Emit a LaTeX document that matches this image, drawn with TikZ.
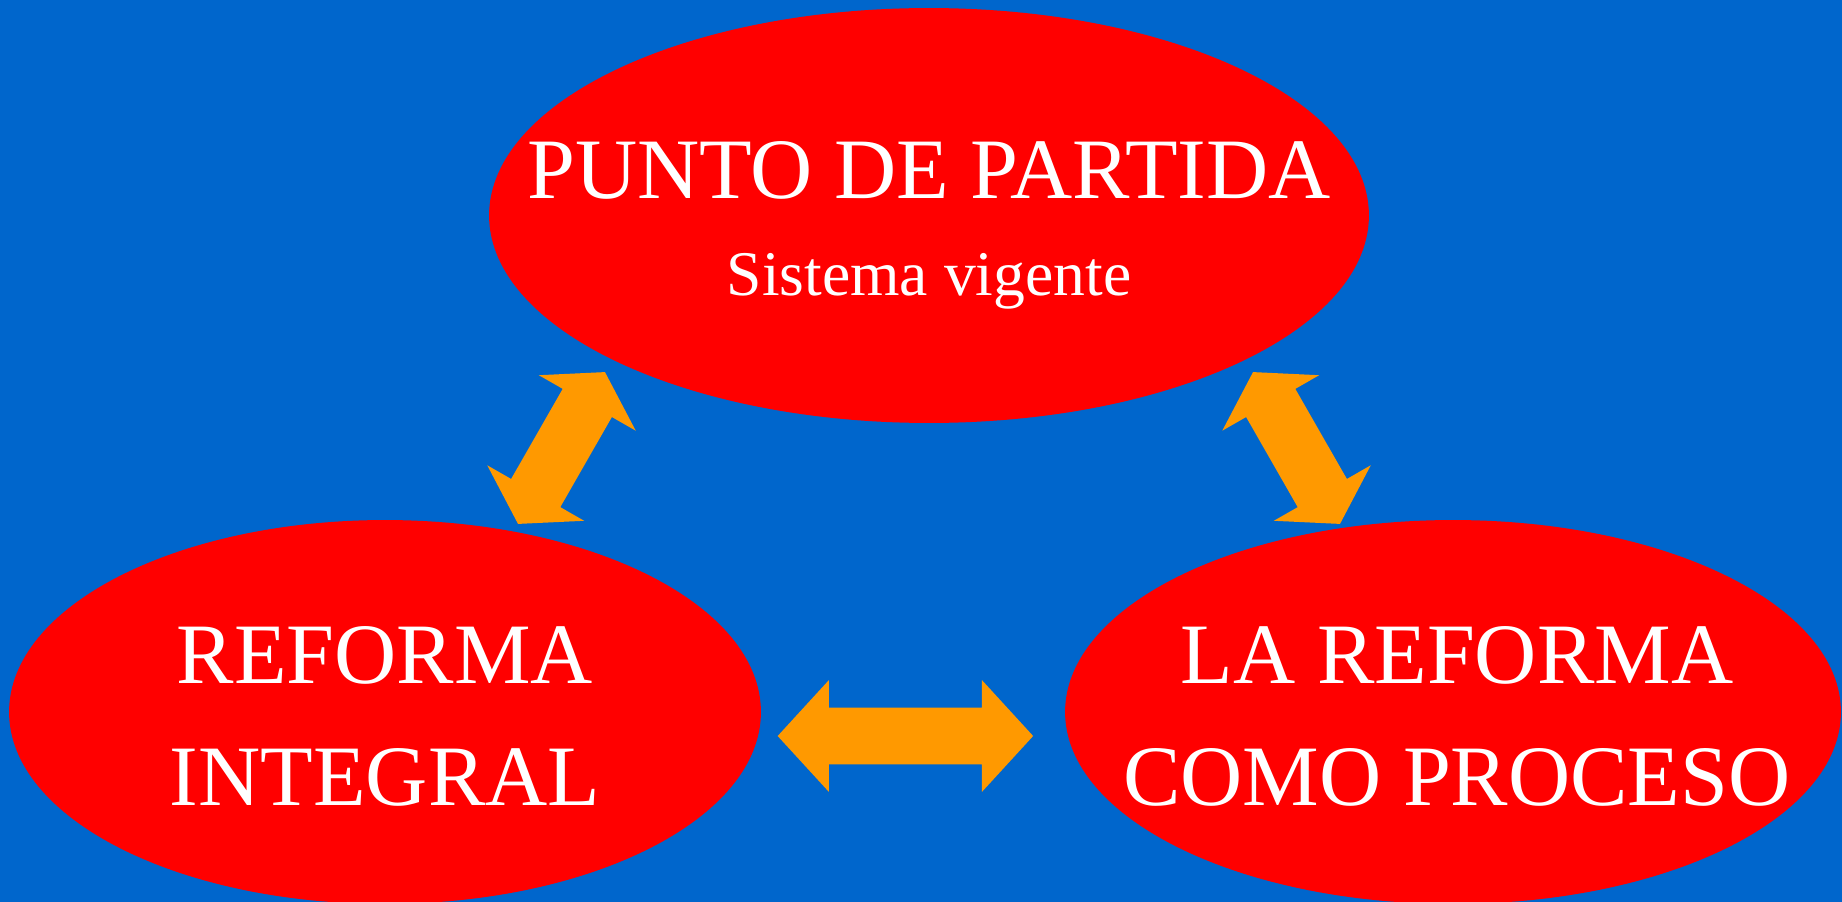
\documentclass[tikz,border=0pt]{standalone}
\usepackage{fontspec}
\setmainfont{Liberation Serif}
\usetikzlibrary{shapes.geometric,shapes.arrows,positioning}

\definecolor{azulfondo}{HTML}{0066CC}
\definecolor{rojobola}{HTML}{FF0000}
\definecolor{naranja}{HTML}{FF9900}

\tikzset{
  bola/.style={ellipse, fill=rojobola, inner sep=0pt},
  rotulo/.style={text=white, inner sep=0pt, align=center,
    font=\fontsize{49pt}{69.4pt}\selectfont},
  subrotulo/.style={text=white, inner sep=0pt,
    font=\fontsize{36.2pt}{44pt}\selectfont},
  flecha/.style={double arrow, fill=naranja, inner xsep=0pt, inner ysep=0.56cm,
    double arrow head extend=0.55cm}
}

\begin{document}
\begin{tikzpicture}[x=0.02cm, y=-0.02cm]
			\useasboundingbox (0,0) rectangle (1842,902);
			\fill[azulfondo] (0,0) rectangle (1842,902);
			% elipses
			\node[bola, minimum width=17.6cm, minimum height=8.3cm] (partida) at (929,215.5) {};
			\node[bola, minimum width=15.04cm, minimum height=7.68cm] (integral) at (385,712) {};
			\node[bola, minimum width=15.52cm, minimum height=7.68cm] (proceso) at (1453,712) {};
			% textos
			\node[rotulo, anchor=base] (tpartida) at ([yshift=0.34cm]partida.center) {PUNTO DE PARTIDA};
			\node[subrotulo, anchor=base] (tvigente) at ([yshift=-1.6cm]partida.center) {Sistema vigente};
			\node[rotulo, anchor=north] (tintegral) at (385,626) {REFORMA\\INTEGRAL};
			\node[rotulo, anchor=north] (tproceso) at (1457,626) {LA REFORMA\\COMO PROCESO};
			% flechas
			\node[flecha, minimum height=5.11cm, minimum width=2.22cm, double arrow tip angle=95] (fabajo) at (905.4,736) {};
			\node[flecha, minimum height=3.5cm, minimum width=2.2cm, double arrow tip angle=115, rotate=60.2] (fizq) at (561.5,448) {};
			\node[flecha, minimum height=3.5cm, minimum width=2.2cm, double arrow tip angle=115, rotate=-60.2] (fder) at (1296.5,448) {};
		\end{tikzpicture}
\end{document}
